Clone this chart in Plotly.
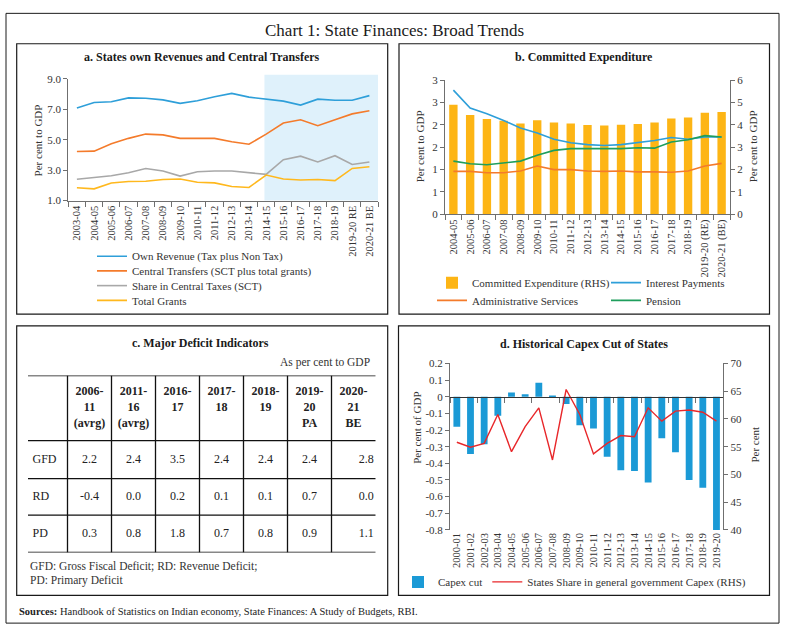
import plotly.graph_objects as go

W, H = 789, 635
def fx(p): return p / W
def fy(p): return 1 - p / H

FONT = "Liberation Serif"
TXT = "#333333"
AX = "#6f6f6f"

# ---------------- Panel a data ----------------
years_a = ["2003-04", "2004-05", "2005-06", "2006-07", "2007-08", "2008-09", "2009-10",
           "2010-11", "2011-12", "2012-13", "2013-14", "2014-15", "2015-16", "2016-17",
           "2017-18", "2018-19", "2019-20 RE", "2020-21 BE"]
own_revenue = [7.09, 7.45, 7.50, 7.75, 7.73, 7.62, 7.39, 7.56, 7.82, 8.05, 7.80, 7.67,
               7.54, 7.28, 7.67, 7.60, 7.60, 7.90]
central_transfers = [4.23, 4.25, 4.74, 5.09, 5.37, 5.32, 5.09, 5.11, 5.09, 4.87, 4.70,
                     5.37, 6.10, 6.31, 5.92, 6.31, 6.70, 6.91]
share_central_taxes = [2.40, 2.51, 2.63, 2.83, 3.11, 2.94, 2.61, 2.89, 2.94, 2.94, 2.85,
                       2.72, 3.69, 3.92, 3.54, 3.95, 3.37, 3.54]
total_grants = [1.84, 1.77, 2.16, 2.25, 2.27, 2.38, 2.42, 2.20, 2.16, 1.92, 1.86, 2.68,
                2.42, 2.35, 2.38, 2.31, 3.11, 3.22]
a_ticks = [1.0, 3.0, 5.0, 7.0, 9.0]

# ---------------- Panel b data ----------------
years_b = ["2004-05", "2005-06", "2006-07", "2007-08", "2008-09", "2009-10", "2010-11",
           "2011-12", "2012-13", "2013-14", "2014-15", "2015-16", "2016-17", "2017-18",
           "2018-19", "2019-20 (RE)", "2020-21 (BE)"]
committed_exp = [4.90, 4.45, 4.27, 4.19, 4.07, 4.21, 4.11, 4.07, 4.00, 3.97, 4.01, 4.04,
                 4.11, 4.29, 4.33, 4.55, 4.58]
interest_payments = [2.78, 2.38, 2.25, 2.10, 1.93, 1.82, 1.68, 1.60, 1.56, 1.54, 1.56,
                     1.60, 1.65, 1.72, 1.68, 1.73, 1.73]
admin_services = [0.96, 0.96, 0.93, 0.93, 0.97, 1.08, 1.00, 1.00, 0.97, 0.96, 0.97, 0.95,
                  0.95, 0.94, 0.97, 1.08, 1.14]
pension = [1.19, 1.13, 1.11, 1.15, 1.19, 1.32, 1.43, 1.47, 1.47, 1.46, 1.47, 1.49, 1.48,
           1.62, 1.67, 1.76, 1.73]
b_left_tickvals = [0, 0.5, 1, 1.5, 2, 2.5, 3]
b_left_ticktext = ["0", "1", "1", "2", "2", "3", "3"]
b_right_tickvals = [0, 1, 2, 3, 4, 5, 6]

# ---------------- Panel c data ----------------
table_cols = ["2006-<br>11<br>(avrg)", "2011-<br>16<br>(avrg)", "2016-<br>17", "2017-<br>18",
              "2018-<br>19", "2019-<br>20<br>PA", "2020-<br>21<br>BE"]
table_rows = ["GFD", "RD", "PD"]
gfd = [2.2, 2.4, 3.5, 2.4, 2.4, 2.4, 2.8]
rd = [-0.4, 0.0, 0.2, 0.1, 0.1, 0.7, 0.0]
pd_vals = [0.3, 0.8, 1.8, 0.7, 0.8, 0.9, 1.1]

# ---------------- Panel d data ----------------
years_d = ["2000-01", "2001-02", "2002-03", "2003-04", "2004-05", "2005-06", "2006-07",
           "2007-08", "2008-09", "2009-10", "2010-11", "2011-12", "2012-13", "2013-14",
           "2014-15", "2015-16", "2016-17", "2017-18", "2018-19", "2019-20"]
capex_cut = [-0.180, -0.344, -0.285, -0.114, 0.025, 0.015, 0.084, 0.003, -0.044, -0.171,
             -0.191, -0.360, -0.442, -0.446, -0.515, -0.250, -0.334, -0.500, -0.547, -0.800]
states_share = [55.8, 54.9, 55.6, 60.8, 54.1, 58.6, 62.0, 52.6, 65.3, 60.8, 53.7, 55.6,
                57.0, 56.8, 62.0, 59.6, 61.4, 61.6, 61.2, 59.6]
d_left_tickvals = [0.2, 0.1, 0.0, -0.1, -0.2, -0.3, -0.4, -0.5, -0.6, -0.7, -0.8]
d_right_tickvals = [40, 45, 50, 55, 60, 65, 70]

fig = go.Figure()

# ---------------- Panel a traces ----------------
a_series = [
    ("Own Revenue (Tax plus Non Tax)", own_revenue, "#2E9FD9", "legend"),
    ("Central Transfers (SCT plus total grants)", central_transfers, "#F47B2B", "legend2"),
    ("Share in Central Taxes (SCT)", share_central_taxes, "#A8A8A8", "legend3"),
    ("Total Grants", total_grants, "#FFB81D", "legend4"),
]
for name, vals, col, lg in a_series:
    fig.add_trace(go.Scatter(x=years_a, y=vals, name=name, mode="lines",
                             line=dict(color=col, width=1.6), xaxis="x", yaxis="y",
                             legend=lg, hoverinfo="skip"))

# ---------------- Panel b traces ----------------
fig.add_trace(go.Bar(x=years_b, y=committed_exp, name="Committed Expenditure (RHS)",
                     marker=dict(color="#FDB515", line=dict(width=0)), xaxis="x2", yaxis="y2",
                     legend="legend5", hoverinfo="skip"))
fig.add_trace(go.Scatter(x=years_b, y=interest_payments, name="Interest Payments", mode="lines",
                         line=dict(color="#2E9FD9", width=1.6), xaxis="x2", yaxis="y3",
                         legend="legend5", hoverinfo="skip"))
fig.add_trace(go.Scatter(x=years_b, y=admin_services, name="Administrative Services", mode="lines",
                         line=dict(color="#F47B2B", width=1.6), xaxis="x2", yaxis="y3",
                         legend="legend6", hoverinfo="skip"))
fig.add_trace(go.Scatter(x=years_b, y=pension, name="Pension", mode="lines",
                         line=dict(color="#1E9E5C", width=1.6), xaxis="x2", yaxis="y3",
                         legend="legend6", hoverinfo="skip"))

# ---------------- Panel d traces ----------------
fig.add_trace(go.Bar(x=years_d, y=capex_cut, name="Capex cut",
                     marker=dict(color="#1B9AD6", line=dict(width=0)), xaxis="x3", yaxis="y4",
                     legend="legend7", hoverinfo="skip"))
fig.add_trace(go.Scatter(x=years_d, y=states_share,
                         name="States Share in general government Capex (RHS)", mode="lines",
                         line=dict(color="#E8272A", width=1.4), xaxis="x4", yaxis="y5",
                         legend="legend7", hoverinfo="skip"))

# ---------------- Panel c table (text traces on a hidden axis) ----------------
col_edges = [0, 39.5, 83.5, 127.5, 171.5, 215.5, 259.5, 303.5, 347.7]
row_edges = [0, 66.3, 105.0, 142.3, 180.3]
col_centers = [(col_edges[i] + col_edges[i + 1]) / 2 for i in range(1, 8)]
row_centers = [(row_edges[i] + row_edges[i + 1]) / 2 for i in range(1, 4)]
tfont = dict(family=FONT, size=12, color="#222222")

fig.add_trace(go.Scatter(x=col_centers, y=[11] * 7, mode="text",
                         text=["<b>" + c + "</b>" for c in table_cols],
                         textposition="bottom center", textfont=tfont,
                         xaxis="x5", yaxis="y6", showlegend=False, hoverinfo="skip"))
fig.add_trace(go.Scatter(x=[4.5] * 3, y=row_centers, mode="text", text=table_rows,
                         textposition="middle right", textfont=tfont,
                         xaxis="x5", yaxis="y6", showlegend=False, hoverinfo="skip"))
for rc, row in zip(row_centers, [gfd, rd, pd_vals]):
    fig.add_trace(go.Scatter(x=col_centers[:6], y=[rc] * 6, mode="text",
                             text=[f"{v:.1f}" for v in row[:6]], textposition="middle center",
                             textfont=tfont, xaxis="x5", yaxis="y6", showlegend=False,
                             hoverinfo="skip"))
    fig.add_trace(go.Scatter(x=[col_edges[-1] - 2], y=[rc], mode="text",
                             text=[f"{row[6]:.1f}"], textposition="middle left",
                             textfont=tfont, xaxis="x5", yaxis="y6", showlegend=False,
                             hoverinfo="skip"))

shapes = []
for ry in row_edges:
    shapes.append(dict(type="line", xref="x5", yref="y6", x0=col_edges[0], x1=col_edges[-1],
                       y0=ry, y1=ry, line=dict(color="#111111", width=1.3)))
for cx in col_edges[1:-1]:
    shapes.append(dict(type="line", xref="x5", yref="y6", x0=cx, x1=cx,
                       y0=row_edges[0], y1=row_edges[-1], line=dict(color="#111111", width=1.3)))

# frames
def rect(x0, y0, x1, y1, w=1.2):
    return dict(type="rect", xref="paper", yref="paper", x0=fx(x0), x1=fx(x1),
                y0=fy(y1), y1=fy(y0), line=dict(color="#1a1a1a", width=w),
                fillcolor="rgba(0,0,0,0)", layer="above")
shapes += [rect(6, 7.5, 779, 629, 1.0), rect(16.7, 38.5, 387.7, 314), rect(399, 38.5, 769.5, 314),
           rect(16.7, 326, 387.7, 600.7), rect(398.5, 326, 769.5, 600.7)]
# shaded projection region in panel a
shapes.append(dict(type="rect", xref="x", yref="paper", x0=10.9, x1=17.5,
                   y0=fy(198.3), y1=fy(70), fillcolor="#DFF1FB", line=dict(width=0),
                   layer="below"))

def ann(text, x, y, size=11, xanchor="center", angle=0, color=TXT):
    return dict(text=text, x=fx(x), y=fy(y), xref="paper", yref="paper", showarrow=False,
                xanchor=xanchor, yanchor="middle", textangle=angle,
                font=dict(family=FONT, size=size, color=color))

annotations = [
    ann("Chart 1: State Finances: Broad Trends", 394.5, 25, 17, color="#1a1a1a"),
    ann("<b>a. States own Revenues and Central Transfers</b>", 202, 52, 12, color="#1a1a1a"),
    ann("<b>b. Committed Expenditure</b>", 584, 52, 12, color="#1a1a1a"),
    ann("<b>c. Major Deficit Indicators</b>", 200, 344, 12, color="#1a1a1a"),
    ann("<b>d. Historical Capex Cut of States</b>", 584, 345, 12, color="#1a1a1a"),
    ann("Per cent to GDP", 38, 137, 11, angle=-90),
    ann("Per cent to GDP", 420, 143, 11, angle=-90),
    ann("Per cent to GDP", 753, 143, 11, angle=-90),
    ann("Per cent of GDP", 417, 430, 11, angle=-90),
    ann("Per cent", 755, 447, 11, angle=-90),
    ann("As per cent to GDP", 372, 363, 11.5, xanchor="right"),
    ann("GFD: Gross Fiscal Deficit; RD: Revenue Deficit;", 28, 571, 11.5, xanchor="left"),
    ann("PD: Primary Deficit", 28, 586, 11.5, xanchor="left"),
    ann("<b>Sources:</b> Handbook of Statistics on Indian economy, State Finances: A Study of Budgets, RBI.",
        16.7, 617, 10.5, xanchor="left", color="#222222"),
]

tickfont_num = dict(family=FONT, size=11, color=TXT)
tickfont_cat = dict(family=FONT, size=10.5, color=TXT)
common_x = dict(type="category", showline=True, linecolor=AX, linewidth=1, ticks="outside",
                tickson="boundaries", ticklen=5, tickcolor=AX, tickangle=-90,
                tickfont=tickfont_cat, showgrid=False, zeroline=False, fixedrange=True)
common_y = dict(showline=True, linecolor=AX, linewidth=1, ticks="outside", ticklen=4,
                tickcolor=AX, tickfont=tickfont_num, showgrid=False, zeroline=False,
                fixedrange=True)

# zero-line position for panel d
d_range = [-0.8, 0.2]
d_dom = [fy(534), fy(364.3)]
zero_pos = d_dom[0] + (0 - d_range[0]) / (d_range[1] - d_range[0]) * (d_dom[1] - d_dom[0])

def legend_cfg(x, y, h=False, ew=None):
    d = dict(x=fx(x), y=fy(y), xanchor="left", yanchor="middle", bgcolor="rgba(0,0,0,0)",
             borderwidth=0, font=dict(family=FONT, size=11, color=TXT),
             orientation="h" if h else "v", itemclick=False, itemdoubleclick=False)
    if ew is not None:
        d["entrywidth"] = ew
        d["entrywidthmode"] = "pixels"
    return d

fig.update_layout(
    width=W, height=H, margin=dict(l=0, r=0, t=0, b=0),
    paper_bgcolor="white", plot_bgcolor="rgba(0,0,0,0)",
    font=dict(family=FONT, size=11, color=TXT),
    barmode="overlay", bargap=0.5,
    xaxis=dict(common_x, domain=[fx(68.3), fx(378)], anchor="y", range=[-0.5, 17.5]),
    yaxis=dict(common_y, domain=[fy(198.3), fy(74.3)], anchor="x", range=[1, 9],
               tickvals=a_ticks, tickformat=".1f"),
    xaxis2=dict(common_x, domain=[fx(445), fx(730)], anchor="y2", range=[-0.5, 16.5]),
    yaxis2=dict(common_y, domain=[fy(212.3), fy(75.7)], anchor="x2", side="right",
                range=[0, 6], tickvals=b_right_tickvals),
    yaxis3=dict(common_y, overlaying="y2", anchor="x2", side="left", range=[0, 3],
                tickvals=b_left_tickvals, ticktext=b_left_ticktext),
    xaxis3=dict(common_x, domain=[fx(450), fx(723.3)], anchor="y4", range=[-0.5, 19.5],
                showline=False, ticks=""),
    xaxis4=dict(common_x, overlaying="x3", anchor="free", position=zero_pos,
                range=[-0.5, 19.5], showticklabels=False, linecolor="#333333"),
    yaxis4=dict(common_y, domain=d_dom, anchor="x3", range=d_range,
                tickvals=d_left_tickvals, ticktext=[f"{v:g}" for v in d_left_tickvals]),
    yaxis5=dict(common_y, overlaying="y4", anchor="x3", side="right", range=[40, 70],
                tickvals=d_right_tickvals),
    xaxis5=dict(domain=[fx(28), fx(375.7)], anchor="y6", range=[0, 347.7], visible=False,
                fixedrange=True),
    yaxis6=dict(domain=[fy(557), fy(376.7)], anchor="x5", range=[180.3, 0], visible=False,
                fixedrange=True),
    legend=legend_cfg(92, 255),
    legend2=legend_cfg(92, 270),
    legend3=legend_cfg(92, 285),
    legend4=legend_cfg(92, 300),
    legend5=legend_cfg(432, 282, h=True, ew=129),
    legend6=legend_cfg(432, 300, h=True, ew=129),
    legend7=legend_cfg(398, 587, h=True),
    shapes=shapes, annotations=annotations,
)

fig.write_html("out.html", config={"displayModeBar": False},
               post_script="document.body.style.margin='0';document.body.style.overflow='hidden';")
